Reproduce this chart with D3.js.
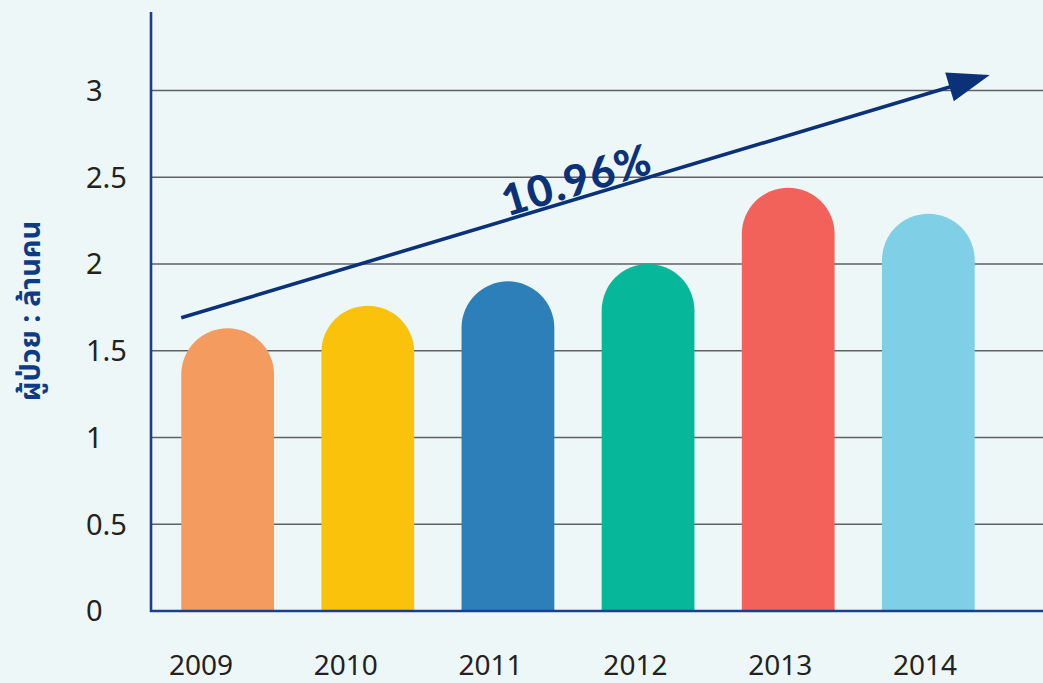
<!DOCTYPE html>
<html>
<head>
<meta charset="utf-8">
<script src="https://cdn.jsdelivr.net/npm/d3@7"></script>
<style>
	html, body { margin: 0; padding: 0; background: #eef7f7; }
	svg { display: block; }
	.tick-label { font-family: 'Noto Sans', Lato, sans-serif; font-size: 29px; fill: #222; }
	.year-label { font-family: 'Noto Sans', Lato, sans-serif; font-size: 28px; fill: #222; }
</style>
</head>
<body>
<script>

const years = ['2009', '2010', '2011', '2012', '2013', '2014']
const patients = [1.63, 1.76, 1.90, 2.00, 2.44, 2.29]
const barColors = ['#f49b5f', '#fbc20b', '#2d7fba', '#06b799', '#f3625a', '#7fd0e6']
const yTicks = [0, 0.5, 1, 1.5, 2, 2.5, 3]
const yTickLabels = ['0', '0.5', '1', '1.5', '2', '2.5', '3']
const trendFrom = 1.69
const trendTo = 3.09
const trendLabel = '10.96%'
const yTitle = 'ผู้ป่วย : ล้านคน'

var width = 1043
var height = 683

var axisX = 151
var axisY = 611
var navy = '#0b3278'

var svg = d3.select('body')
	.append('svg')
	.attr('width', width)
	.attr('height', height)

svg.append('rect')
	.attr('width', width)
	.attr('height', height)
	.attr('fill', '#eef7f7')

var xScale = d3.scaleBand()
	.domain(years)
	.range([axisX, 1005])
	.paddingInner(0.338)
	.paddingOuter(0.216)

// year labels sit on their own, slightly wider spacing
var labelScale = d3.scalePoint()
	.domain(years)
	.range([201, 925])

var yScale = d3.scaleLinear()
	.domain([0, 3])
	.range([axisY, 90.5])

// gridlines
svg.append('g')
	.selectAll('line')
	.data(yTicks.filter(d => d > 0))
	.join('line')
		.attr('x1', axisX)
		.attr('x2', width)
		.attr('y1', d => yScale(d))
		.attr('y2', d => yScale(d))
		.attr('stroke', '#5e6266')
		.attr('stroke-width', 1.4)

// y tick labels
svg.append('g')
	.selectAll('text')
	.data(yTicks)
	.join('text')
		.attr('class', 'tick-label')
		.attr('x', 86)
		.attr('y', d => yScale(d))
		.attr('dy', '0.36em')
		.text((d, i) => yTickLabels[i])

// rounded-top bars
function barPath(d, i) {
	var x0 = xScale(years[i])
	var w = xScale.bandwidth()
	var r = w / 2
	var top = yScale(d)
	var p = d3.path()
	p.moveTo(x0, axisY)
	p.lineTo(x0, top + r)
	p.arc(x0 + r, top + r, r, Math.PI, 2 * Math.PI)
	p.lineTo(x0 + w, axisY)
	p.closePath()
	return p.toString()
}

svg.append('g')
	.selectAll('path')
	.data(patients)
	.join('path')
		.attr('d', barPath)
		.attr('fill', (d, i) => barColors[i])

// axes lines
svg.append('line')
	.attr('x1', axisX).attr('x2', axisX)
	.attr('y1', 12).attr('y2', axisY + 1)
	.attr('stroke', '#1b3f8b')
	.attr('stroke-width', 2.6)

svg.append('line')
	.attr('x1', axisX - 1).attr('x2', width)
	.attr('y1', axisY).attr('y2', axisY)
	.attr('stroke', '#1b3f8b')
	.attr('stroke-width', 2.6)

// year labels
svg.append('g')
	.selectAll('text')
	.data(years)
	.join('text')
		.attr('class', 'year-label')
		.attr('x', d => labelScale(d))
		.attr('y', 675)
		.attr('text-anchor', 'middle')
		.text(d => d)

// y title
svg.append('text')
	.attr('transform', 'translate(40, 311) rotate(-90)')
	.attr('text-anchor', 'middle')
	.attr('font-family', "'Noto Sans Thai', 'Noto Sans', Tahoma, sans-serif")
	.attr('font-size', 29)
	.attr('font-weight', 700)
	.attr('fill', '#0d3b85')
	.text(yTitle)

// trend arrow
var tx1 = xScale(years[0])
var ty1 = yScale(trendFrom)
var tx2 = xScale(years[years.length - 1]) + xScale.bandwidth() + 15
var ty2 = yScale(trendTo)
var angle = Math.atan2(ty2 - ty1, tx2 - tx1)
var headLen = 38
var bx = tx2 - headLen * Math.cos(angle)
var by = ty2 - headLen * Math.sin(angle)

svg.append('line')
	.attr('x1', tx1).attr('y1', ty1)
	.attr('x2', bx + 4 * Math.cos(angle)).attr('y2', by + 4 * Math.sin(angle))
	.attr('stroke', navy)
	.attr('stroke-width', 3.6)

var nx = -Math.sin(angle)
var ny = Math.cos(angle)
svg.append('path')
	.attr('d', d3.line()([
		[tx2, ty2],
		[bx - 4 * Math.cos(angle) + 15 * nx, by - 4 * Math.sin(angle) + 15 * ny],
		[bx - 4 * Math.cos(angle) - 15 * nx, by - 4 * Math.sin(angle) - 15 * ny]
	]))
	.attr('fill', navy)

var t = 0.404
var lx = tx1 + (tx2 - tx1) * t
var ly = ty1 + (ty2 - ty1) * t
svg.append('text')
	.attr('transform', `translate(${lx}, ${ly}) rotate(${angle * 180 / Math.PI})`)
	.attr('dy', -3)
	.attr('font-family', "Lato, 'Noto Sans', sans-serif")
	.attr('font-size', 43)
	.attr('font-weight', 900)
	.attr('letter-spacing', 1.5)
	.attr('fill', navy)
	.text(trendLabel)

</script>
</body>
</html>
